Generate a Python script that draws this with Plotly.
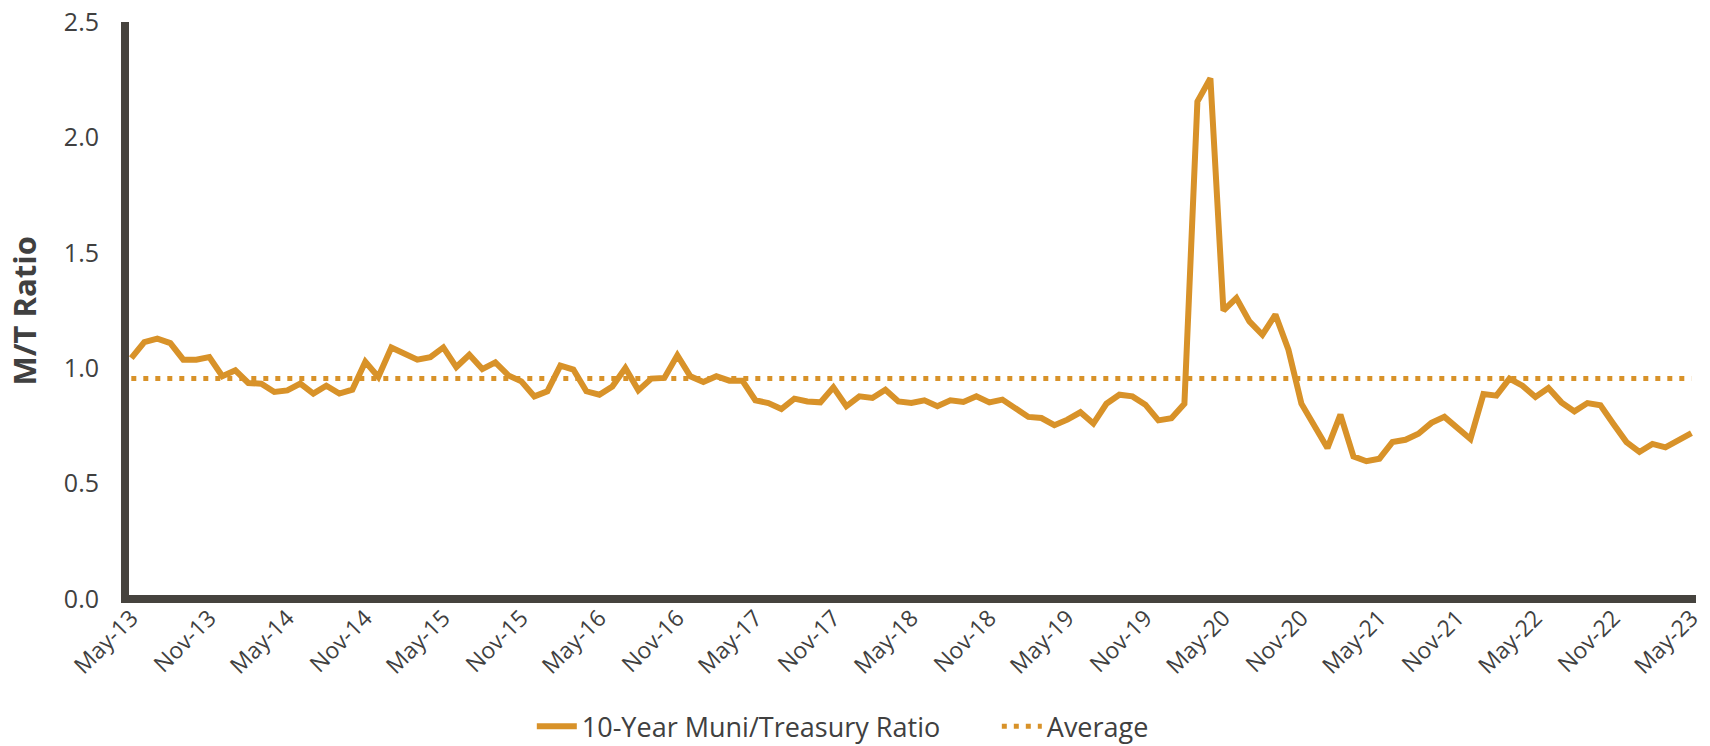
import plotly.graph_objects as go

# ---- data ----
months = ["Jan", "Feb", "Mar", "Apr", "May", "Jun", "Jul", "Aug", "Sep", "Oct", "Nov", "Dec"]
dates = []
for k in range(121):
    m = (4 + k) % 12
    yr = 13 + (4 + k) // 12
    dates.append(f"{months[m]}-{yr:02d}")

ratio = [
    1.044, 1.113, 1.128, 1.109, 1.037, 1.037, 1.048, 0.965, 0.991, 0.936,
    0.933, 0.897, 0.904, 0.933, 0.890, 0.924, 0.890, 0.907, 1.028, 0.962,
    1.090, 1.063, 1.037, 1.048, 1.090, 1.005, 1.058, 0.996, 1.025, 0.969,
    0.943, 0.878, 0.900, 1.011, 0.994, 0.900, 0.885, 0.921, 1.001, 0.904,
    0.955, 0.958, 1.056, 0.965, 0.940, 0.965, 0.946, 0.946, 0.861, 0.849,
    0.823, 0.868, 0.856, 0.852, 0.917, 0.835, 0.878, 0.871, 0.907, 0.856,
    0.849, 0.861, 0.835, 0.861, 0.854, 0.878, 0.852, 0.864, 0.830, 0.789,
    0.784, 0.753, 0.777, 0.809, 0.760, 0.846, 0.885, 0.878, 0.842, 0.774,
    0.783, 0.846, 2.155, 2.256, 1.250, 1.304, 1.203, 1.145, 1.232, 1.080,
    0.846, 0.748, 0.654, 0.799, 0.618, 0.597, 0.608, 0.680, 0.690, 0.716,
    0.763, 0.789, 0.744, 0.693, 0.888, 0.881, 0.955, 0.924, 0.875, 0.914,
    0.852, 0.813, 0.849, 0.839, 0.758, 0.680, 0.637, 0.672, 0.657, 0.688,
    0.719,
]
average_value = 0.955
average = [average_value] * len(dates)

tick_labels = dates[::6]
y_ticks = [0.0, 0.5, 1.0, 1.5, 2.0, 2.5]

series_name = "10-Year Muni/Treasury Ratio"
avg_name = "Average"

# ---- style ----
ORANGE = "#D89229"
AXIS = "#46433E"
TEXT = "#404040"
FONT = "Open Sans"

fig = go.Figure()
fig.add_trace(go.Scatter(
    x=dates, y=ratio, mode="lines", name=series_name,
    line=dict(color=ORANGE, width=6),
))
fig.add_trace(go.Scatter(
    x=dates, y=average, mode="lines", name=avg_name,
    line=dict(color=ORANGE, width=5, dash="5px,7px"),
))

W, H = 1710, 746
L, R, T, B = 125, 14, 22, 146.5

fig.update_layout(
    width=W, height=H,
    margin=dict(l=L, r=R, t=T, b=B, pad=0, autoexpand=False),
    paper_bgcolor="white", plot_bgcolor="white",
    font=dict(family=FONT, size=24, color=TEXT),
    showlegend=True,
    legend=dict(
        orientation="h", xref="container", yref="container",
        x=0.311, xanchor="left", y=0.026, yanchor="middle",
        font=dict(family=FONT, size=27, color=TEXT),
        bgcolor="rgba(0,0,0,0)", itemwidth=40,
        entrywidth=410, entrywidthmode="pixels",
    ),
    xaxis=dict(
        type="category", categoryorder="array", categoryarray=dates,
        range=[-0.485, 120.35], automargin=False,
        tickmode="array", tickvals=tick_labels, ticktext=tick_labels,
        tickangle=-45, showgrid=False, zeroline=False, showline=False,
        ticks="", ticklen=0,
        tickfont=dict(family=FONT, size=23, color=TEXT),
    ),
    yaxis=dict(
        range=[0, 2.5], tickmode="array", tickvals=y_ticks, automargin=False,
        tickformat=".1f", showgrid=False, zeroline=False, showline=False,
        ticks="outside", ticklen=20, tickcolor="rgba(0,0,0,0)",
        tickfont=dict(family=FONT, size=25, color=TEXT),
    ),
    shapes=[
        dict(type="line", xref="paper", yref="paper", x0=0, x1=0, y0=-0.007, y1=1,
             line=dict(color=AXIS, width=8), layer="below"),
        dict(type="line", xref="paper", yref="paper", x0=-0.0025, x1=1, y0=0, y1=0,
             line=dict(color=AXIS, width=8), layer="below"),
    ],
    annotations=[
        dict(text="<b>M/T Ratio</b>", xref="paper", yref="paper",
             x=-0.0643, y=0.5, xanchor="center", yanchor="middle",
             textangle=-90, showarrow=False,
             font=dict(family=FONT, size=31, color=TEXT)),
    ],
)

fig.write_html("out.html", config={"displayModeBar": False},
               post_script="document.body.style.margin='0';")
